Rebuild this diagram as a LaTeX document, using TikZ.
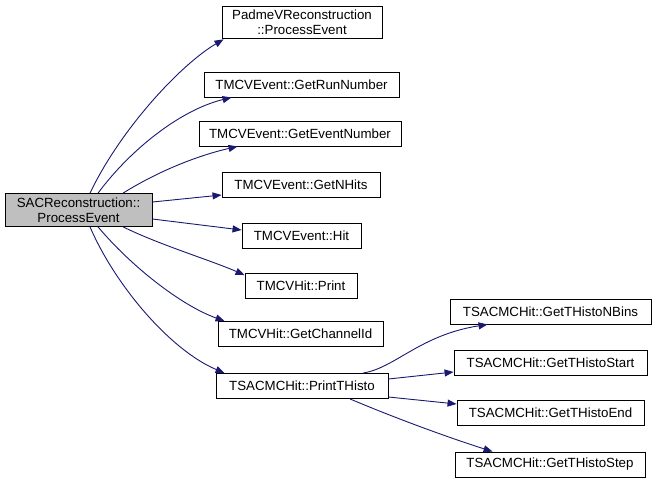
\documentclass[tikz,border=0pt]{standalone}
\usepackage{fontspec}
\setmainfont{Liberation Sans}
\usetikzlibrary{arrows.meta,positioning}
\definecolor{callblue}{HTML}{191970}
\definecolor{rootgray}{HTML}{BFBFBF}

\begin{document}
\begin{tikzpicture}[x=1pt,y=-1pt,
  func/.style={draw=black,line width=0.9pt,fill=white,inner xsep=7pt,inner ysep=4pt,
    minimum height=25pt,align=center,font=\fontsize{13.3}{15}\selectfont},
  root/.style={func,fill=rootgray},
  call/.style={draw=callblue,line width=0.9pt,-{Triangle[length=9pt,width=7pt]}}]
\useasboundingbox (0,0) rectangle (656,483);

% Caller
\node[root,minimum width=147pt] (sac) at (78.5,210) {SACReconstruction::\\ProcessEvent};

% Callees
\node[func,minimum width=160pt] (padme) at (302,22.5) {PadmeVReconstruction\\::ProcessEvent};
\node[func,minimum width=195pt] (runnr) at (301.5,84.5) {TMCVEvent::GetRunNumber};
\node[func,minimum width=202pt] (evtnr) at (300,133.5) {TMCVEvent::GetEventNumber};
\node[func,minimum width=158pt] (nhits) at (301,185) {TMCVEvent::GetNHits};
\node[func,minimum width=119pt] (evhit) at (301.5,235.5) {TMCVEvent::Hit};
\node[func,minimum width=112pt] (hitprint) at (301,286) {TMCVHit::Print};
\node[func,minimum width=165pt] (chanid) at (300.5,334) {TMCVHit::GetChannelId};
\node[func,minimum width=172pt] (printhisto) at (302,386) {TSACMCHit::PrintTHisto};

% Histo getters
\node[func,minimum width=201pt] (nbins) at (550.5,311.5) {TSACMCHit::GetTHistoNBins};
\node[func,minimum width=193pt] (hstart) at (550.5,362.5) {TSACMCHit::GetTHistoStart};
\node[func,minimum width=187pt] (hend) at (550.5,413) {TSACMCHit::GetTHistoEnd};
\node[func,minimum width=190pt] (hstep) at (550,464.5) {TSACMCHit::GetTHistoStep};

% Calls from the caller
\draw[call] ([xshift=11.5pt]sac.north) .. controls (120,130) and (180,65) .. ([xshift=2pt]padme.south west);
\draw[call] ([xshift=19.5pt]sac.north) .. controls (130,150) and (180,110) .. ([xshift=28pt]runnr.south west);
\draw[call] ([xshift=44.5pt]sac.north) .. controls (160,170) and (200,155) .. ([xshift=39pt]evtnr.south west);
\draw[call] ([yshift=8pt]sac.east) -- ([yshift=-10pt]nhits.west);
\draw[call] ([yshift=-9pt]sac.east) -- ([yshift=5.5pt]evhit.west);
\draw[call] ([xshift=44.5pt]sac.south) .. controls (160,245) and (210,260) .. ([yshift=-2pt]hitprint.north west);
\draw[call] ([xshift=19.5pt]sac.south) .. controls (130,265) and (180,305) .. ([xshift=7pt]chanid.north west);
\draw[call] ([xshift=11.5pt]sac.south) .. controls (115,285) and (170,350) .. ([xshift=9pt]printhisto.north west);

% Calls from PrintTHisto
\draw[call] ([xshift=61pt]printhisto.north) .. controls (395,368) and (420,335) .. ([xshift=38pt]nbins.south west);
\draw[call] ([yshift=7pt]printhisto.east) -- ([yshift=-9.5pt]hstart.west);
\draw[call] ([yshift=-11pt]printhisto.east) -- ([yshift=9pt]hend.west);
\draw[call] ([xshift=48pt]printhisto.south) .. controls (400,420) and (450,438) .. ([xshift=38pt]hstep.north west);
\end{tikzpicture}
\end{document}
